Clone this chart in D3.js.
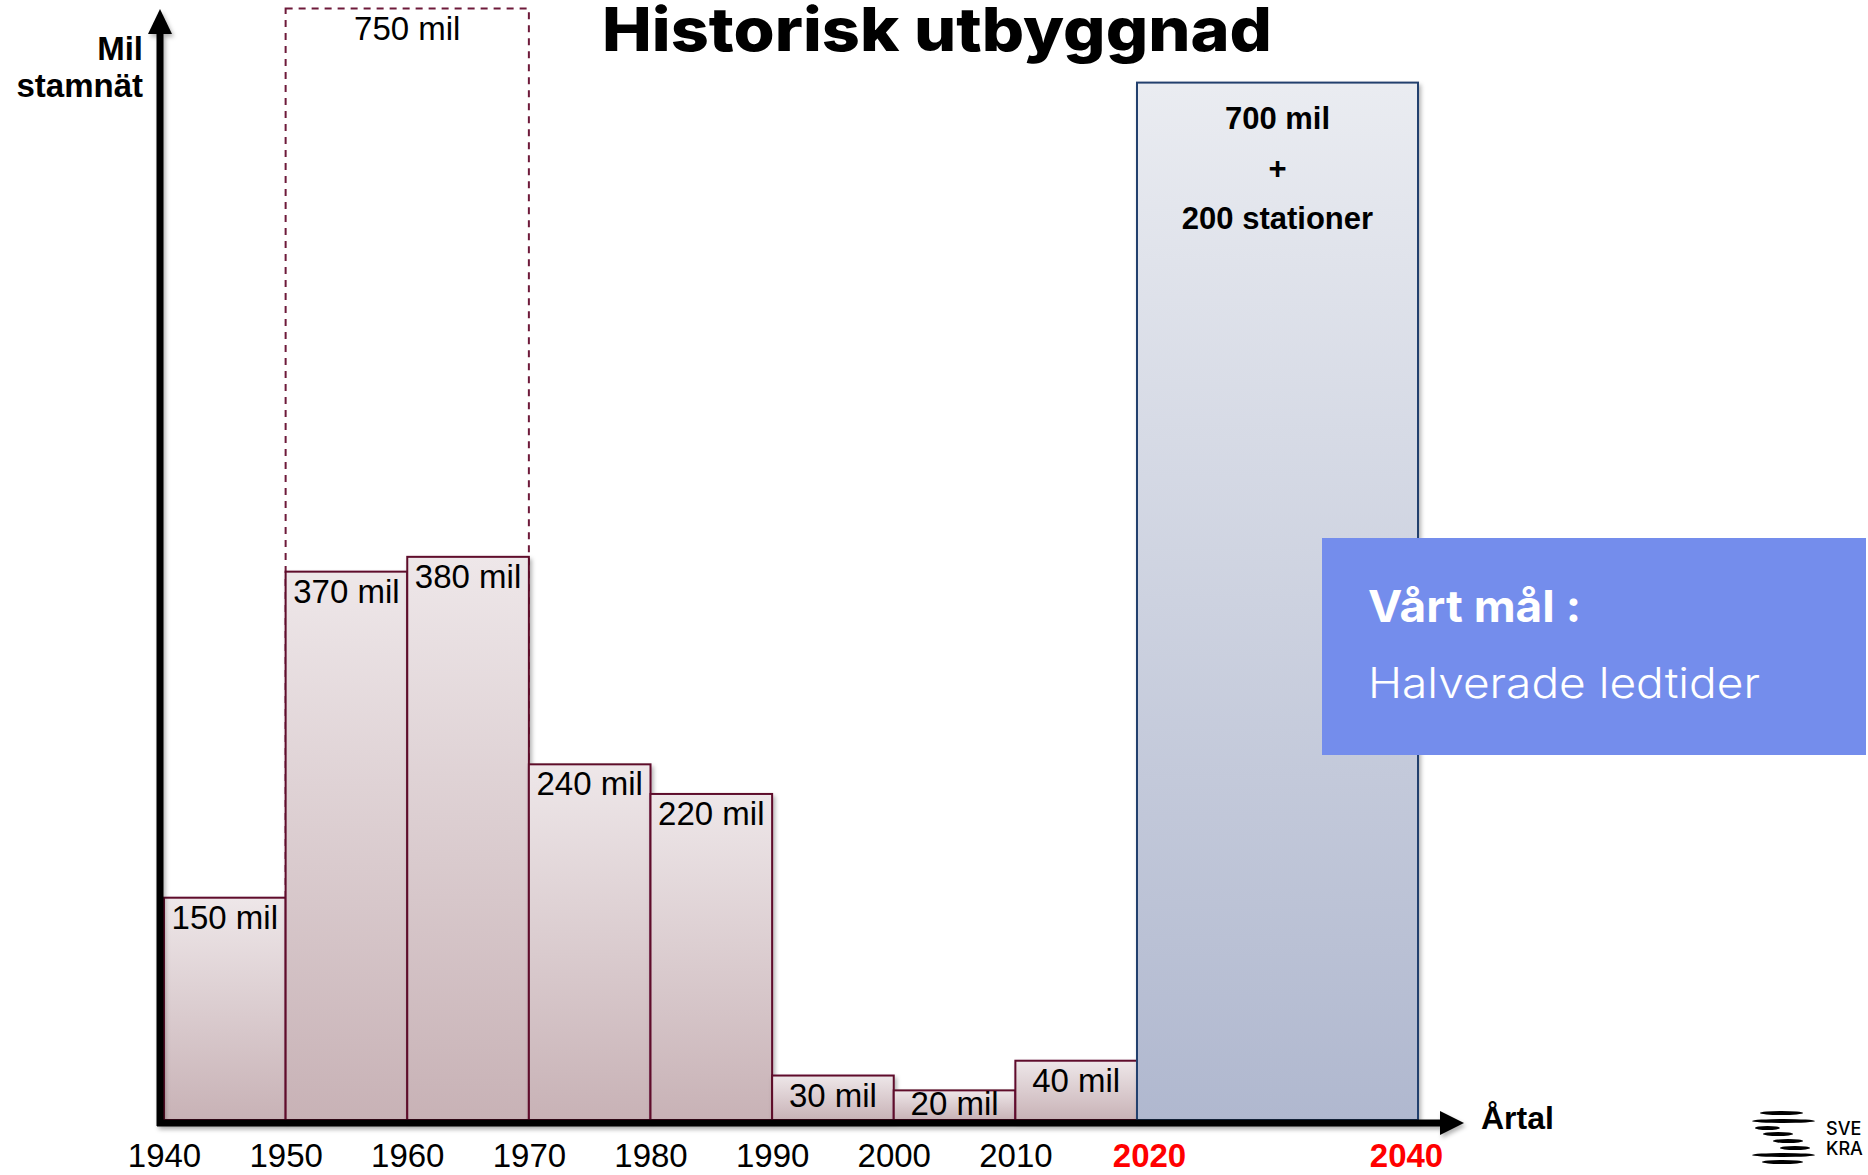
<!DOCTYPE html>
<html>
<head>
<meta charset="utf-8">
<script src="https://cdn.jsdelivr.net/npm/d3@7"></script>
<style>
  html, body { margin: 0; padding: 0; background: #fff; overflow: hidden; }
  svg { display: block; }
  text { font-family: 'Liberation Sans', Arial, sans-serif; }
</style>
</head>
<body>
<div id="graf"></div>
<script>
// I. Data
decennier = [1940, 1950, 1960, 1970, 1980, 1990, 2000, 2010]
milPerDecennium = [150, 370, 380, 240, 220, 30, 20, 40]
planSpan = [1950, 1970]
planMil = 750
malSpan = [2020, 2040]
malMil = 700
malRader = ['700 mil', '+', '200 stationer']
tickAr = [1940, 1950, 1960, 1970, 1980, 1990, 2000, 2010, 2020, 2040]
rodaAr = [2020, 2040]

// II. Configuración
ancho = 1868
alto = 1175

svg = d3.select('#graf').append('svg')
        .attr('width', ancho)
        .attr('height', alto)

x = d3.scaleLinear()
      .domain([1940, 2020, 2040])
      .range([164, 1137, 1418])

y = d3.scaleLinear()
      .domain([0, 760])
      .range([1120, 1120 - 760 * 1.482])

defs = svg.append('defs')

gradRod = defs.append('linearGradient').attr('id', 'gradRod')
              .attr('x1', 0).attr('y1', 0).attr('x2', 0).attr('y2', 1)
gradRod.append('stop').attr('offset', '0%').attr('stop-color', '#eee7e9')
gradRod.append('stop').attr('offset', '100%').attr('stop-color', '#c8b2b6')

gradBla = defs.append('linearGradient').attr('id', 'gradBla')
              .attr('x1', 0).attr('y1', 0).attr('x2', 0).attr('y2', 1)
gradBla.append('stop').attr('offset', '0%').attr('stop-color', '#eaecf1')
gradBla.append('stop').attr('offset', '100%').attr('stop-color', '#b0b8cf')

skugga = defs.append('filter').attr('id', 'skugga')
             .attr('x', '-10%').attr('y', '-10%').attr('width', '130%').attr('height', '130%')
skugga.append('feDropShadow')
      .attr('dx', 2).attr('dy', 3).attr('stdDeviation', 2)
      .attr('flood-color', '#000').attr('flood-opacity', 0.3)

g = svg.append('g')

// etikettens baslinje: 31px under toppen, men aldrig under axeln
etikettY = v => Math.min(y(v) + 31, y(0) - 5)

// III. Plan 1950-1970 (streckad)
g.append('rect')
  .attr('x', x(planSpan[0]))
  .attr('y', y(planMil))
  .attr('width', x(planSpan[1]) - x(planSpan[0]))
  .attr('height', y(0) - y(planMil))
  .attr('fill', 'none')
  .attr('stroke', '#6e1a3a')
  .attr('stroke-width', 2)
  .attr('stroke-dasharray', '7,6')

g.append('text')
  .attr('x', (x(planSpan[0]) + x(planSpan[1])) / 2)
  .attr('y', etikettY(planMil))
  .attr('text-anchor', 'middle')
  .style('font-size', '33px')
  .text(planMil + ' mil')

// IV. Staplar
data = decennier.map((d, i) => ({ ar: d, mil: milPerDecennium[i] }))

g.selectAll('rect.stapel')
  .data(data)
  .join('rect')
    .attr('class', 'stapel')
    .attr('x', d => x(d.ar))
    .attr('y', d => y(d.mil))
    .attr('width', d => x(d.ar + 10) - x(d.ar))
    .attr('height', d => y(0) - y(d.mil))
    .attr('fill', 'url(#gradRod)')
    .attr('stroke', '#5e0b2c')
    .attr('stroke-width', 2)
    .attr('filter', 'url(#skugga)')

g.selectAll('text.etikett')
  .data(data)
  .join('text')
    .attr('class', 'etikett')
    .attr('x', d => (x(d.ar) + x(d.ar + 10)) / 2)
    .attr('y', d => etikettY(d.mil))
    .attr('text-anchor', 'middle')
    .style('font-size', '33px')
    .text(d => d.mil + ' mil')

// mål 2020-2040
g.append('rect')
  .attr('x', x(malSpan[0]))
  .attr('y', y(malMil))
  .attr('width', x(malSpan[1]) - x(malSpan[0]))
  .attr('height', y(0) - y(malMil))
  .attr('fill', 'url(#gradBla)')
  .attr('stroke', '#22406e')
  .attr('stroke-width', 2)
  .attr('filter', 'url(#skugga)')

g.selectAll('text.mal')
  .data(malRader)
  .join('text')
    .attr('class', 'mal')
    .attr('x', (x(malSpan[0]) + x(malSpan[1])) / 2)
    .attr('y', (d, i) => y(malMil) + 46 + i * 50)
    .attr('text-anchor', 'middle')
    .style('font-size', '31px')
    .style('font-weight', 'bold')
    .text(d => d)

// V. Ejes
ejes = svg.append('g').attr('filter', 'url(#skugga)')

ejes.append('line')
  .attr('x1', 157).attr('x2', 1444)
  .attr('y1', y(0) + 3).attr('y2', y(0) + 3)
  .attr('stroke', '#000').attr('stroke-width', 7)
ejes.append('path')
  .attr('d', `M1440,${y(0) + 3 - 12} L1464,${y(0) + 3} L1440,${y(0) + 3 + 12} Z`)
  .attr('fill', '#000')

ejes.append('line')
  .attr('x1', 160).attr('x2', 160)
  .attr('y1', y(0) + 6).attr('y2', 30)
  .attr('stroke', '#000').attr('stroke-width', 7)
ejes.append('path')
  .attr('d', 'M148,34 L160,9 L172,34 Z')
  .attr('fill', '#000')

xAxisGroup = svg.append('g')
  .attr('transform', `translate(0, ${y(0) + 3})`)
  .call(d3.axisBottom(x).tickValues(tickAr).tickSize(0).tickPadding(21).tickFormat(d3.format('d')))

xAxisGroup.select('.domain').remove()
xAxisGroup.selectAll('text')
  .style('font-family', "'Liberation Sans', Arial, sans-serif")
  .style('font-size', '33px')
  .attr('fill', d => rodaAr.includes(d) ? '#ff0000' : '#000')
  .style('font-weight', d => rodaAr.includes(d) ? 'bold' : 'normal')
  // 2020 och 2040 står lite innanför stapelns kanter
  .attr('dx', d => d === 2020 ? 12 : d === 2040 ? -12 : 0)

svg.append('text')
  .attr('x', 1481).attr('y', 1129)
  .style('font-size', '32px').style('font-weight', 'bold')
  .text('Årtal')

svg.selectAll('text.yrubrik')
  .data(['Mil', 'stamnät'])
  .join('text')
    .attr('class', 'yrubrik')
    .attr('x', 143)
    .attr('y', (d, i) => 60 + i * 37)
    .attr('text-anchor', 'end')
    .style('font-size', '33px').style('font-weight', 'bold')
    .text(d => d)

// VI. Título y ruta
svg.append('text')
  .attr('x', 937).attr('y', 51)
  .attr('text-anchor', 'middle')
  .attr('textLength', 670).attr('lengthAdjust', 'spacingAndGlyphs')
  .style('font-family', 'Inter, Lato, sans-serif')
  .style('font-size', '60px').style('font-weight', 800)
  .text('Historisk utbyggnad')

svg.append('rect')
  .attr('x', 1322).attr('y', 538)
  .attr('width', 544).attr('height', 217)
  .attr('fill', '#748dec')

svg.append('text')
  .attr('x', 1368).attr('y', 622)
  .attr('textLength', 213).attr('lengthAdjust', 'spacingAndGlyphs')
  .style('font-family', 'Inter, Lato, sans-serif')
  .style('font-size', '44px').style('font-weight', 700)
  .attr('fill', '#fff')
  .text('Vårt mål :')

svg.append('text')
  .attr('x', 1368).attr('y', 698)
  .attr('textLength', 392).attr('lengthAdjust', 'spacingAndGlyphs')
  .style('font-family', 'Inter, Lato, sans-serif')
  .style('font-size', '42px').style('font-weight', 300)
  .attr('fill', '#fff')
  .text('Halverade ledtider')

// logo
logo = svg.append('g')
logoLinjer = [[1760, 1803, 1113], [1752, 1815, 1121], [1755, 1780, 1128], [1763, 1793, 1134],
              [1773, 1803, 1141], [1780, 1810, 1148], [1752, 1815, 1155], [1762, 1803, 1162]]
logo.selectAll('ellipse')
  .data(logoLinjer)
  .join('ellipse')
    .attr('cx', d => (d[0] + d[1]) / 2)
    .attr('cy', d => d[2])
    .attr('rx', d => (d[1] - d[0]) / 2)
    .attr('ry', 2)
    .attr('fill', '#000')
logo.append('text').attr('x', 1826).attr('y', 1135)
  .style('font-family', 'Inter, sans-serif').style('font-size', '18px').style('font-weight', 500)
  .text('SVE')
logo.append('text').attr('x', 1826).attr('y', 1155)
  .style('font-family', 'Inter, sans-serif').style('font-size', '18px').style('font-weight', 500)
  .text('KRA')
</script>
</body>
</html>
